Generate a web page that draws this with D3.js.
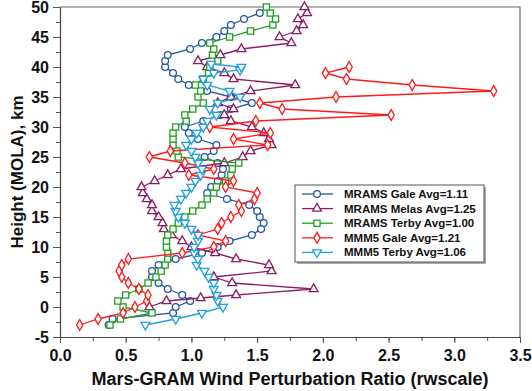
<!DOCTYPE html>
<html>
<head>
<meta charset="utf-8">
<script src="https://cdn.jsdelivr.net/npm/d3@7"></script>
<style>
  body { margin: 0; background: #fff; }
  text { font-family: "Liberation Sans", Arial, sans-serif; font-weight: bold; fill: #111; }
</style>
</head>
<body>
<svg id="chart" width="532" height="391"></svg>
<script>
// [height km, wind perturbation ratio]
var mramsGale = [[-3,0.37],[-2,0.40],[-1,0.86],[0,0.88],[1,0.99],[2,0.93],[3,0.82],[4,0.75],[5,0.70],[6,0.70],
  [7,0.75],[8,0.88],[9,1.08],[10,1.20],[11,1.29],[12,1.46],[13,1.53],[14,1.55],[15,1.52],[16,1.50],
  [17,1.44],[18,1.27],[19,1.12],[20,1.15],[21,1.20],[22,1.23],[23,1.24],[24,1.20],[25,1.10],[26,1.17],
  [27,1.19],[28,1.05],[29,0.98],[30,0.95],[31,1.09],[32,1.22],[33,1.30],[34,1.46],[35,1.30],[36,1.12],
  [37,0.98],[38,0.90],[39,0.86],[40,0.80],[41,0.80],[42,0.82],[43,0.99],[44,1.08],[45,1.19],[46,1.25],
  [47,1.30],[48,1.40],[49,1.52]];
var mramsMelas = [[0,0.68],[1,0.81],[1.5,1.07],[2,1.34],[3,1.93],[4,1.31],[5,1.17],[6,1.61],[7,1.59],[8,1.34],
  [9,1.18],[10,1.00],[11,0.93],[12,0.85],[13,0.79],[14,0.78],[15,0.75],[16,0.70],[17,0.70],[18,0.66],
  [19,0.63],[20,0.62],[21,0.72],[22,0.82],[23,0.92],[24,1.25],[25,1.39],[26,1.45],[27,1.61],[28,1.59],
  [29,1.55],[30,1.46],[31,1.30],[32,1.25],[33,1.32],[34,1.20],[35,1.30],[36,1.45],[37,1.79],[38,1.32],
  [39,1.25],[40,1.12],[41,1.05],[42,1.22],[43,1.38],[44,1.76],[45,1.67],[46,1.80],[47,1.85],[48,1.81],
  [49,1.88],[50,1.86]];
var mramsTerby = [[-3,0.38],[-2,0.46],[-1,0.70],[0,0.48],[1,0.44],[2,0.50],[3,0.60],[4,0.67],[5,0.73],[6,0.77],
  [7,0.80],[8,0.82],[9,0.82],[10,0.81],[11,0.81],[12,0.82],[13,0.86],[14,0.90],[15,0.95],[16,1.01],
  [17,1.08],[18,1.12],[19,1.17],[20,1.19],[21,1.26],[22,1.30],[23,1.31],[24,1.36],[25,0.90],[26,0.89],
  [27,0.86],[28,0.86],[29,0.86],[30,0.88],[31,0.96],[32,0.95],[33,1.01],[34,1.09],[35,1.05],[36,1.07],
  [37,1.03],[38,1.09],[39,1.13],[40,1.14],[41,1.20],[42,1.16],[43,1.17],[44,1.14],[45,1.29],[46,1.45],
  [47,1.62],[48,1.64],[49,1.60],[50,1.57]];
var mmm5Gale = [[-3,0.15],[-2,0.29],[-1,0.48],[0,0.57],[1,0.66],[2,0.67],[3,0.60],[4,0.52],[5,0.47],[6,0.45],
  [7,0.47],[8,0.52],[9,0.93],[10,1.17],[11,1.26],[12,1.05],[13,1.20],[14,1.23],[15,1.30],[16,1.38],
  [17,1.36],[18,1.48],[19,1.50],[20,1.26],[21,1.32],[22,0.98],[23,1.17],[24,0.95],[25,0.68],[26,0.84],
  [27,1.58],[28,1.32],[29,1.60],[30,1.14],[31,1.49],[32,2.52],[33,1.69],[34,1.52],[35,2.10],[36,3.30],
  [37,2.68],[38,2.18],[39,2.02],[40,2.20]];
var mmm5Terby = [[-3,0.65],[-2,0.88],[-1,1.08],[0,1.24],[1,1.20],[2,1.19],[3,1.17],[4,1.17],[5,1.13],[6,1.10],
  [7,1.04],[8,1.05],[9,1.02],[10,1.02],[11,1.05],[12,1.05],[13,1.00],[14,0.95],[15,0.90],[16,0.88],
  [17,0.87],[18,0.92],[19,0.96],[20,1.00],[21,1.03],[22,1.07],[23,1.08],[24,1.05],[25,1.03],[26,1.00],
  [27,0.96],[28,1.00],[29,1.04],[30,1.09],[31,1.12],[32,1.19],[33,1.14],[34,1.20],[35,1.37],[36,1.29],
  [37,1.12],[38,1.09],[39,1.17],[39.5,1.37],[40,1.38],[40.5,1.15]];

var seriesNames = ["MRAMS Gale Avg=1.11", "MRAMS Melas Avg=1.25", "MRAMS Terby Avg=1.00",
  "MMM5 Gale Avg=1.21", "MMM5 Terby Avg=1.06"];
var seriesColors = ["#2457a6", "#8c1d63", "#1f9e1f", "#ff1a1a", "#219fe0"];
var seriesData = [mramsGale, mramsMelas, mramsTerby, mmm5Gale, mmm5Terby];

var xTicks = [0, 0.5, 1, 1.5, 2, 2.5, 3, 3.5];
var yTicks = [-5, 0, 5, 10, 15, 20, 25, 30, 35, 40, 45, 50];

var margin = {top: 7, right: 12, bottom: 54, left: 60},
    width = 532 - margin.left - margin.right,
    height = 391 - margin.top - margin.bottom;

var svg = d3.select("#chart")
  .append("g")
    .attr("transform", "translate(" + margin.left + "," + margin.top + ")");

var x = d3.scaleLinear().domain([0, 3.5]).range([0, width]);
var y = d3.scaleLinear().domain([-5, 50]).range([height, 0]);

// frame (top + right)
svg.append("path")
  .attr("d", "M0,0H" + width + "V" + height)
  .attr("fill", "none")
  .attr("stroke", "#666")
  .attr("stroke-width", 1.2);

// minor ticks
svg.append("g")
  .attr("transform", "translate(0," + height + ")")
  .call(d3.axisBottom(x).tickValues(d3.range(0, 3.51, 0.25)).tickSize(4).tickFormat(""))
  .call(function(g) { g.select(".domain").remove(); });
svg.append("g")
  .call(d3.axisLeft(y).tickValues(d3.range(-5, 50.1, 2.5)).tickSize(4).tickFormat(""))
  .call(function(g) { g.select(".domain").remove(); });

// X axis
var xAxis = svg.append("g")
  .attr("transform", "translate(0," + height + ")")
  .call(d3.axisBottom(x).tickValues(xTicks).tickSize(6).tickPadding(7).tickSizeOuter(0)
    .tickFormat(d3.format(".1f")));
xAxis.selectAll("text").style("font-size", "16px").style("font-family", "'Liberation Sans', Arial, sans-serif")
  .style("font-weight", "bold").attr("fill", "#111");

// Y axis  (plain hyphen for -5, like the original)
var yAxis = svg.append("g")
  .call(d3.axisLeft(y).tickValues(yTicks).tickSize(7).tickPadding(4).tickSizeOuter(0)
    .tickFormat(function(d) { return String(d); }));
yAxis.selectAll("text").style("font-size", "16px").style("font-family", "'Liberation Sans', Arial, sans-serif")
  .style("font-weight", "bold").attr("fill", "#111");

svg.selectAll(".domain").attr("stroke", "#444").attr("stroke-width", 1.2);
svg.selectAll(".tick line").attr("stroke", "#555");

// axis titles
svg.append("text")
  .attr("x", (93 + 487) / 2 - margin.left)
  .attr("y", 385 - margin.top)
  .attr("text-anchor", "middle")
  .style("font-size", "18px")
  .text("Mars-GRAM Wind Perturbation Ratio (rwscale)");

svg.append("text")
  .attr("transform", "translate(" + (23 - margin.left) + "," + (172 - margin.top) + ")rotate(-90)")
  .attr("text-anchor", "middle")
  .style("font-size", "17px")
  .text("Height (MOLA), km");

// markers
var symbols = [
  d3.symbol().type(d3.symbolCircle).size(36),
  d3.symbol().type(d3.symbolTriangle).size(34),
  d3.symbol().type(d3.symbolSquare).size(38),
  d3.symbol().type(d3.symbolDiamond).size(34),
  d3.symbol().type(d3.symbolTriangle).size(34)
];
var rot = [0, 0, 0, 0, 180];

var line = d3.line()
  .x(function(d) { return x(d[1]); })
  .y(function(d) { return y(d[0]); });

seriesData.forEach(function(data, i) {
  var g = svg.append("g");
  g.append("path")
    .datum(data)
    .attr("d", line)
    .attr("fill", "none")
    .attr("stroke", seriesColors[i])
    .attr("stroke-width", 1.3);
  g.selectAll("path.pt")
    .data(data)
    .enter()
    .append("path")
      .attr("class", "pt")
      .attr("d", symbols[i])
      .attr("transform", function(d) {
        return "translate(" + x(d[1]) + "," + y(d[0]) + ")rotate(" + rot[i] + ")";
      })
      .attr("fill", "#fff")
      .attr("stroke", seriesColors[i])
      .attr("stroke-width", 1.3);
});

// legend
var lg = d3.select("#chart").append("g");
lg.append("rect").attr("x", 297).attr("y", 187).attr("width", 189).attr("height", 77).attr("fill", "#aaa");
lg.append("rect").attr("x", 295).attr("y", 185).attr("width", 189).attr("height", 77)
  .attr("fill", "#fff").attr("stroke", "#555").attr("stroke-width", 1);

seriesNames.forEach(function(name, i) {
  var yy = 194 + i * 14.6;
  lg.append("line").attr("x1", 302).attr("x2", 333).attr("y1", yy).attr("y2", yy)
    .attr("stroke", seriesColors[i]).attr("stroke-width", 1.3);
  lg.append("path").attr("d", symbols[i])
    .attr("transform", "translate(317," + yy + ")rotate(" + rot[i] + ")")
    .attr("fill", "#fff").attr("stroke", seriesColors[i]).attr("stroke-width", 1.3);
  lg.append("text").attr("x", 344).attr("y", yy + 4)
    .style("font-size", "11.5px")
    .text(name);
});
</script>
</body>
</html>
